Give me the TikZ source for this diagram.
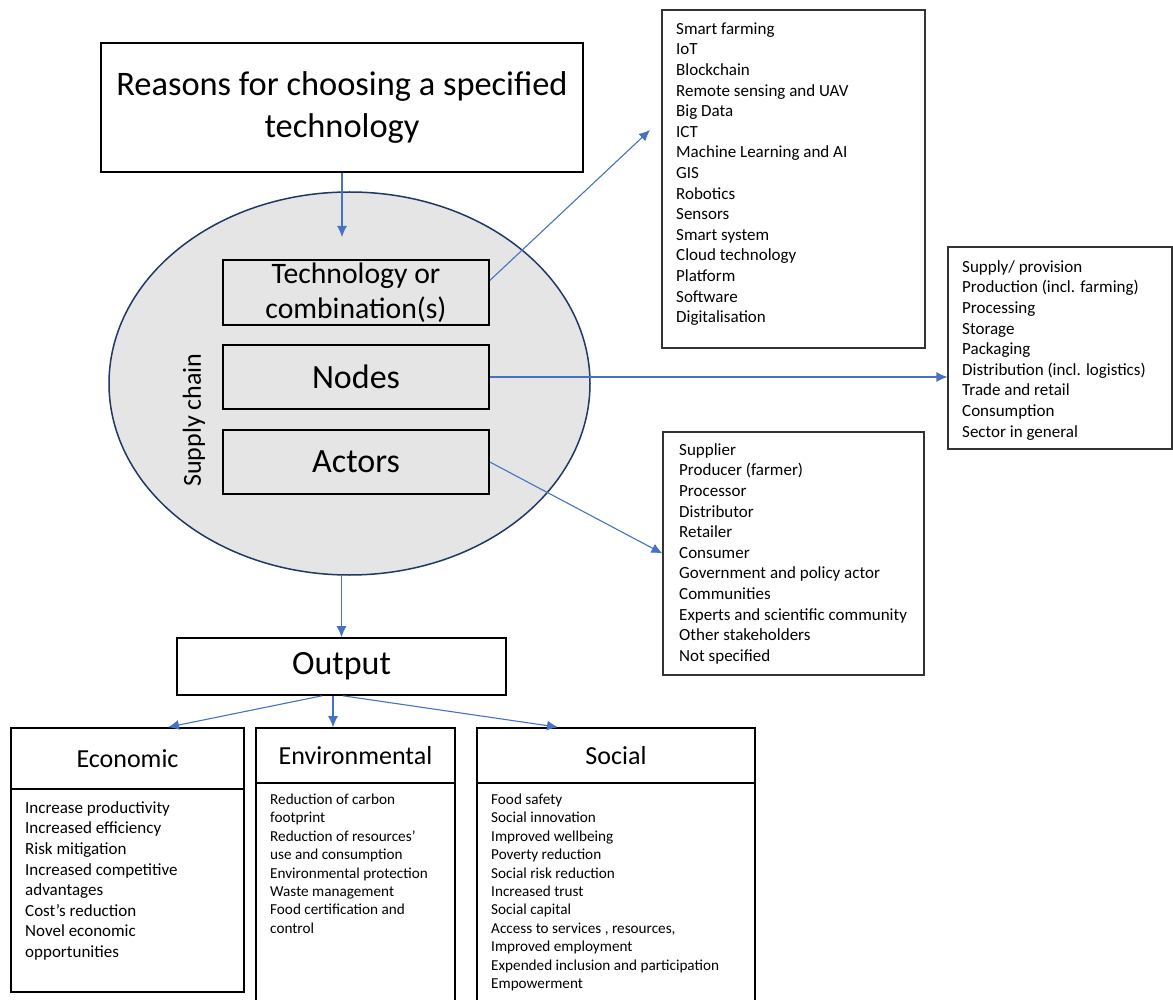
\documentclass[tikz,border=0pt]{standalone}
\usepackage{fontspec}
\setmainfont{Carlito}
\usetikzlibrary{arrows.meta,shapes.geometric,positioning}
\definecolor{arrowblue}{HTML}{4472C4}
\definecolor{rimblue}{HTML}{1F3864}

\begin{document}
\begin{tikzpicture}[x=1pt,y=-1pt,
  mainbox/.style={draw=black, line width=1.6pt, inner sep=0pt, align=center},
  listbox/.style={draw=black!80, line width=1.1pt, inner sep=0pt},
  listtext/.style={anchor=north west, inner sep=0pt, align=left, font=\fontsize{17}{20.6}\selectfont},
  smalltext/.style={listtext, font=\fontsize{15.2}{18.45}\selectfont},
  link/.style={draw=arrowblue, line width=1.1pt, -{Latex[length=11pt,width=10pt]}}]

\useasboundingbox (0,0) rectangle (1173,1000);

% Supply chain cloud
\node[ellipse, draw=rimblue, fill=gray!20, line width=1.5pt, inner sep=0pt,
  minimum width=481pt, minimum height=383pt] (chain) at (349.5,383.5) {};
\node[rotate=90, inner sep=0pt, font=\fontsize{26}{30}\selectfont] (chainlabel) at (194,420) {Supply chain};

% Reasons box
\node[mainbox, minimum width=482pt, minimum height=129pt, font=\fontsize{34.4}{42}\selectfont]
  (reasons) at (342,107.5) {Reasons for choosing a specified\\technology};

% Boxes inside the cloud
\node[mainbox, minimum width=266pt, minimum height=65pt, font=\fontsize{29.7}{35.5}\selectfont]
  (tech) at (356,292.5) {Technology or\\combination(s)};
\node[mainbox, minimum width=266pt, minimum height=64pt, font=\fontsize{34}{40}\selectfont]
  (nodes) at (356,377) {Nodes};
\node[mainbox, minimum width=266pt, minimum height=64pt, font=\fontsize{34}{40}\selectfont]
  (actors) at (356,462) {Actors};

% Lists on the right
\node[listbox, minimum width=263pt, minimum height=338pt] (techlist) at (793.5,179) {};
\node[listtext] at (676,19.6) {\strut Smart farming\\IoT\\Blockchain\\Remote sensing and UAV\\Big Data\\ICT\\Machine Learning and AI\\GIS\\Robotics\\Sensors\\Smart system\\Cloud technology\\Platform\\Software\\Digitalisation};

\node[listbox, minimum width=224pt, minimum height=202pt] (nodelist) at (1060,348) {};
\node[listtext] at (962,257.6) {\strut Supply/ provision\\Production (incl. farming)\\Processing\\Storage\\Packaging\\Distribution (incl. logistics)\\Trade and retail\\Consumption\\Sector in general};

\node[listbox, minimum width=261pt, minimum height=243pt] (actorlist) at (793.5,553.5) {};
\node[listtext] at (679,440.6) {\strut Supplier\\Producer (farmer)\\Processor\\Distributor\\Retailer\\Consumer\\Government and policy actor\\Communities\\Experts and scientific community\\Other stakeholders\\Not specified};

% Output box
\node[mainbox, minimum width=329pt, minimum height=57pt, font=\fontsize{34}{40}\selectfont]
  (output) at (341.5,666.5) {Output};

% Economic
\node[mainbox, minimum width=233pt, minimum height=61pt, font=\fontsize{26}{30}\selectfont]
  (econ) at (127.5,758.5) {Economic};
\node[mainbox, minimum width=233pt, minimum height=203pt] (econbody) at (127.5,890.5) {};
\node[listtext] at (25,798.6) {\strut Increase productivity\\Increased efficiency\\Risk mitigation\\Increased competitive\\advantages\\Cost’s reduction\\Novel economic\\opportunities};

% Environmental
\node[mainbox, minimum width=199pt, minimum height=55pt, font=\fontsize{26}{30}\selectfont]
  (envhead) at (355.5,755.5) {Environmental};
\node[mainbox, minimum width=199pt, minimum height=222pt] (envbody) at (355.5,894) {};
\node[smalltext] at (270,791.1) {\strut Reduction of carbon\\footprint\\Reduction of resources’\\use and consumption\\Environmental protection\\Waste management\\Food certification and\\control};

% Social
\node[mainbox, minimum width=278pt, minimum height=55pt, font=\fontsize{26}{30}\selectfont]
  (socialhead) at (616,755.5) {Social};
\node[mainbox, minimum width=278pt, minimum height=222pt] (socialbody) at (616,894) {};
\node[smalltext] at (491,791.1) {\strut Food safety\\Social innovation\\Improved wellbeing\\Poverty reduction\\Social risk reduction\\Increased trust\\Social capital\\Access to services , resources,\\Improved employment\\Expended inclusion and participation\\Empowerment};

% Arrows
\coordinate (entry) at (342,237);
\coordinate (techtip) at (650,130);
\draw[link] (reasons.south) -- (entry);
\draw[link] ([yshift=12pt]tech.east) -- (techtip);
\draw[link] (nodes.east) -- (nodes.east -| nodelist.west);
\draw[link] (actors.east) -- (actorlist.west);
\draw[link] (chain.south -| output.north) -- (output.north);
\draw[link] ([xshift=-19.5pt]output.south) -- ([xshift=40.5pt]econ.north);
\draw[link] ([xshift=-8.5pt]output.south) -- ([xshift=-22.5pt]envhead.north);
\draw[link] ([xshift=1.5pt]output.south) -- ([xshift=-58pt]socialhead.north);

\end{tikzpicture}
\end{document}
